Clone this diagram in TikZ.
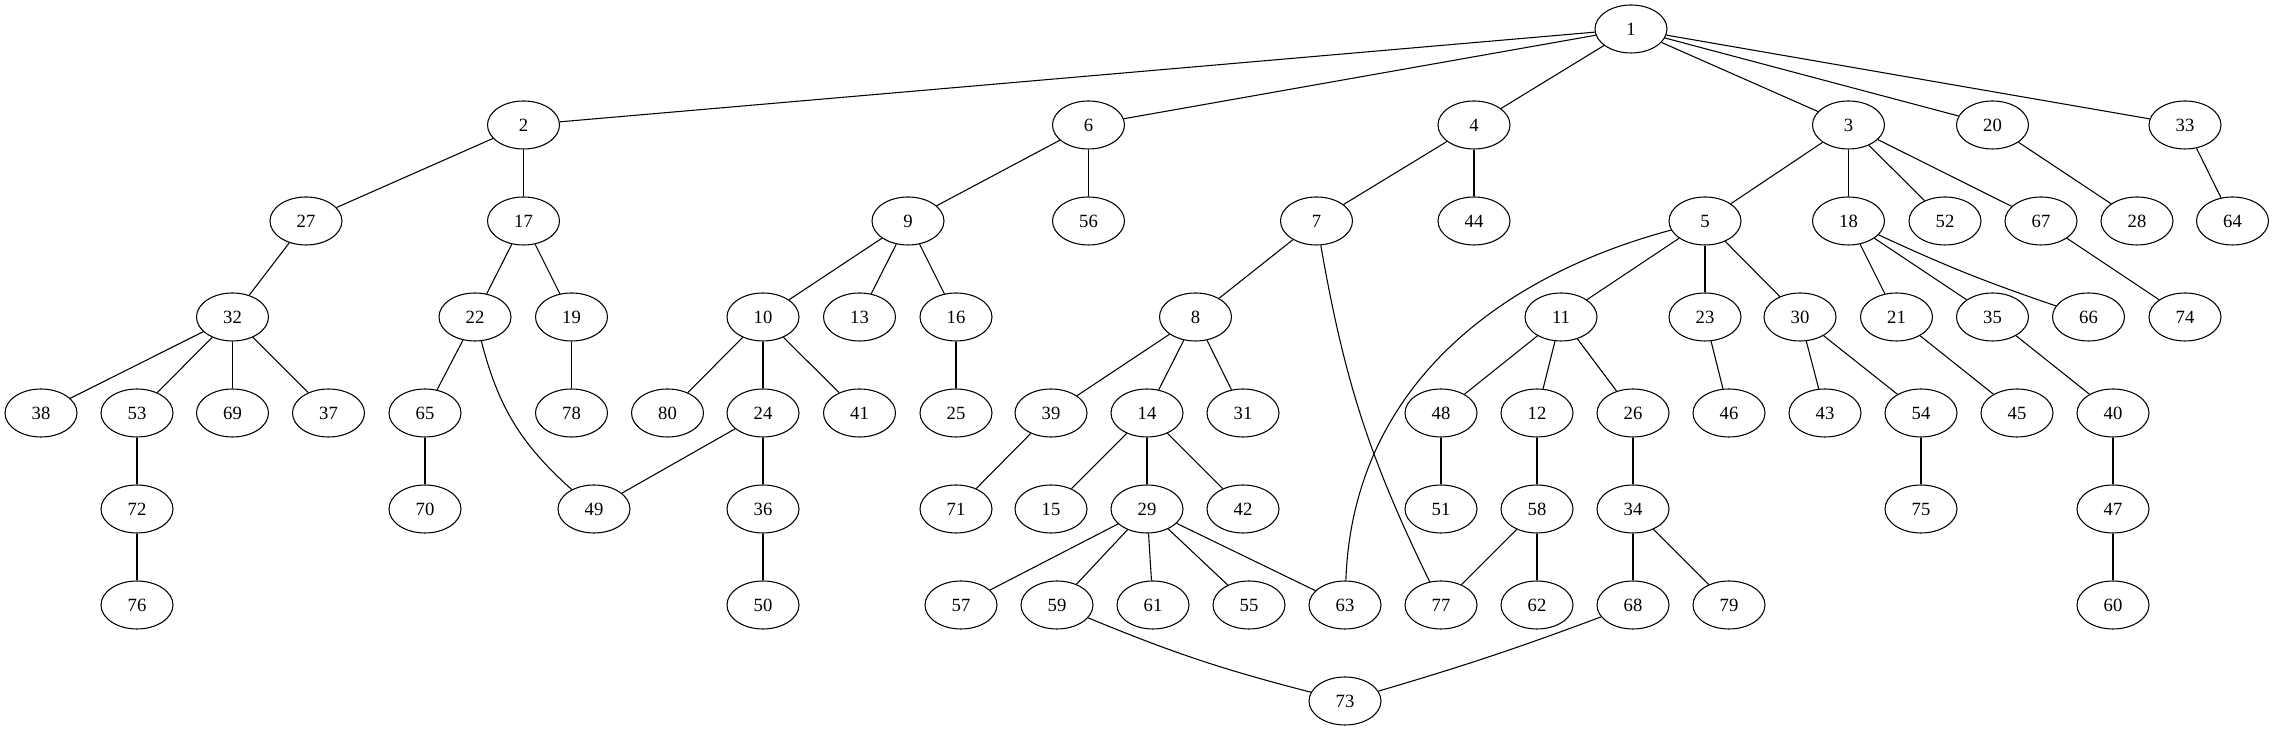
\documentclass[tikz,border=0pt]{standalone}
\usepackage{fontspec}
\setmainfont{Liberation Serif}
\usetikzlibrary{shapes.geometric}

\tikzset{
  vtx/.style={draw, ellipse, line width=0.8pt, minimum width=54pt, minimum height=36pt,
    inner sep=0pt, font=\fontsize{14}{16}\selectfont},
  tie/.style={line width=0.8pt}
}

\begin{document}
\begin{tikzpicture}[x=0.75pt, y=0.75pt]
    % Fix the page
    \useasboundingbox (0,0) rectangle (2275,731);

    % Rank 0
    \node[vtx] (n1) at (1631,702) {1};

    % Rank 1
    \node[vtx] (n2) at (523.5,606) {2};
    \node[vtx] (n6) at (1088.5,606) {6};
    \node[vtx] (n4) at (1474,606) {4};
    \node[vtx] (n3) at (1848.5,606) {3};
    \node[vtx] (n20) at (1992.5,606) {20};
    \node[vtx] (n33) at (2185,606) {33};

    % Rank 2
    \node[vtx] (n27) at (306,510) {27};
    \node[vtx] (n17) at (523.5,510) {17};
    \node[vtx] (n9) at (908,510) {9};
    \node[vtx] (n56) at (1088.5,510) {56};
    \node[vtx] (n7) at (1316.5,510) {7};
    \node[vtx] (n44) at (1474,510) {44};
    \node[vtx] (n5) at (1705,510) {5};
    \node[vtx] (n18) at (1848.5,510) {18};
    \node[vtx] (n52) at (1945,510) {52};
    \node[vtx] (n67) at (2041,510) {67};
    \node[vtx] (n28) at (2137,510) {28};
    \node[vtx] (n64) at (2232.5,510) {64};

    % Rank 3
    \node[vtx] (n32) at (232.5,414) {32};
    \node[vtx] (n22) at (475,414) {22};
    \node[vtx] (n19) at (571.5,414) {19};
    \node[vtx] (n10) at (763,414) {10};
    \node[vtx] (n13) at (859.5,414) {13};
    \node[vtx] (n16) at (956,414) {16};
    \node[vtx] (n8) at (1195.5,414) {8};
    \node[vtx] (n11) at (1561,414) {11};
    \node[vtx] (n23) at (1705,414) {23};
    \node[vtx] (n30) at (1800,414) {30};
    \node[vtx] (n21) at (1896.5,414) {21};
    \node[vtx] (n35) at (1992.5,414) {35};
    \node[vtx] (n66) at (2088.5,414) {66};
    \node[vtx] (n74) at (2185,414) {74};

    % Rank 4
    \node[vtx] (n38) at (41,318) {38};
    \node[vtx] (n53) at (137,318) {53};
    \node[vtx] (n69) at (232.5,318) {69};
    \node[vtx] (n37) at (328.5,318) {37};
    \node[vtx] (n65) at (425,318) {65};
    \node[vtx] (n78) at (571.5,318) {78};
    \node[vtx] (n80) at (667.5,318) {80};
    \node[vtx] (n24) at (763,318) {24};
    \node[vtx] (n41) at (859.5,318) {41};
    \node[vtx] (n25) at (956,318) {25};
    \node[vtx] (n39) at (1051,318) {39};
    \node[vtx] (n14) at (1147,318) {14};
    \node[vtx] (n31) at (1243,318) {31};
    \node[vtx] (n48) at (1441,318) {48};
    \node[vtx] (n12) at (1537,318) {12};
    \node[vtx] (n26) at (1633,318) {26};
    \node[vtx] (n46) at (1729,318) {46};
    \node[vtx] (n43) at (1825,318) {43};
    \node[vtx] (n54) at (1921,318) {54};
    \node[vtx] (n45) at (2017,318) {45};
    \node[vtx] (n40) at (2113,318) {40};

    % Rank 5
    \node[vtx] (n72) at (137,222) {72};
    \node[vtx] (n70) at (425,222) {70};
    \node[vtx] (n49) at (594,222) {49};
    \node[vtx] (n36) at (763,222) {36};
    \node[vtx] (n71) at (956,222) {71};
    \node[vtx] (n15) at (1051,222) {15};
    \node[vtx] (n29) at (1147,222) {29};
    \node[vtx] (n42) at (1243,222) {42};
    \node[vtx] (n51) at (1441,222) {51};
    \node[vtx] (n58) at (1537,222) {58};
    \node[vtx] (n34) at (1633,222) {34};
    \node[vtx] (n75) at (1921,222) {75};
    \node[vtx] (n47) at (2113,222) {47};

    % Rank 6
    \node[vtx] (n76) at (137,126) {76};
    \node[vtx] (n50) at (763,126) {50};
    \node[vtx] (n57) at (961,126) {57};
    \node[vtx] (n59) at (1057,126) {59};
    \node[vtx] (n61) at (1153,126) {61};
    \node[vtx] (n55) at (1249,126) {55};
    \node[vtx] (n63) at (1345,126) {63};
    \node[vtx] (n77) at (1441,126) {77};
    \node[vtx] (n62) at (1537,126) {62};
    \node[vtx] (n68) at (1633,126) {68};
    \node[vtx] (n79) at (1729,126) {79};
    \node[vtx] (n60) at (2113,126) {60};

    % Rank 7
    \node[vtx] (n73) at (1345,30) {73};

    % Edges from the top down
    \draw[tie] (n1) -- (n2);
    \draw[tie] (n1) -- (n6);
    \draw[tie] (n1) -- (n4);
    \draw[tie] (n1) -- (n3);
    \draw[tie] (n1) -- (n20);
    \draw[tie] (n1) -- (n33);
    \draw[tie] (n2) -- (n27);
    \draw[tie] (n2) -- (n17);
    \draw[tie] (n6) -- (n9);
    \draw[tie] (n6) -- (n56);
    \draw[tie] (n4) -- (n7);
    \draw[tie] (n4) -- (n44);
    \draw[tie] (n3) -- (n5);
    \draw[tie] (n3) -- (n18);
    \draw[tie] (n3) -- (n52);
    \draw[tie] (n3) -- (n67);
    \draw[tie] (n20) -- (n28);
    \draw[tie] (n33) -- (n64);
    \draw[tie] (n27) -- (n32);
    \draw[tie] (n17) -- (n22);
    \draw[tie] (n17) -- (n19);
    \draw[tie] (n9) -- (n10);
    \draw[tie] (n9) -- (n13);
    \draw[tie] (n9) -- (n16);
    \draw[tie] (n7) -- (n8);
    \draw[tie] (n7) to[bend right=8] (n77);
    \draw[tie] (n5) to[out=195,in=88] (n63);
    \draw[tie] (n5) -- (n11);
    \draw[tie] (n5) -- (n23);
    \draw[tie] (n5) -- (n30);
    \draw[tie] (n18) -- (n21);
    \draw[tie] (n18) -- (n35);
    \draw[tie] (n18) to[bend right=3] (n66);
    \draw[tie] (n67) -- (n74);
    \draw[tie] (n32) -- (n38);
    \draw[tie] (n32) -- (n53);
    \draw[tie] (n32) -- (n69);
    \draw[tie] (n32) -- (n37);
    \draw[tie] (n22) -- (n65);
    \draw[tie] (n22) to[bend right=17] (n49);
    \draw[tie] (n19) -- (n78);
    \draw[tie] (n10) -- (n80);
    \draw[tie] (n10) -- (n24);
    \draw[tie] (n10) -- (n41);
    \draw[tie] (n16) -- (n25);
    \draw[tie] (n8) -- (n39);
    \draw[tie] (n8) -- (n14);
    \draw[tie] (n8) -- (n31);
    \draw[tie] (n11) -- (n48);
    \draw[tie] (n11) -- (n12);
    \draw[tie] (n11) -- (n26);
    \draw[tie] (n23) -- (n46);
    \draw[tie] (n30) -- (n43);
    \draw[tie] (n30) -- (n54);
    \draw[tie] (n21) -- (n45);
    \draw[tie] (n35) -- (n40);
    \draw[tie] (n53) -- (n72);
    \draw[tie] (n65) -- (n70);
    \draw[tie] (n24) -- (n49);
    \draw[tie] (n24) -- (n36);
    \draw[tie] (n39) -- (n71);
    \draw[tie] (n14) -- (n15);
    \draw[tie] (n14) -- (n29);
    \draw[tie] (n14) -- (n42);
    \draw[tie] (n48) -- (n51);
    \draw[tie] (n12) -- (n58);
    \draw[tie] (n26) -- (n34);
    \draw[tie] (n54) -- (n75);
    \draw[tie] (n40) -- (n47);
    \draw[tie] (n72) -- (n76);
    \draw[tie] (n36) -- (n50);
    \draw[tie] (n29) -- (n57);
    \draw[tie] (n29) -- (n59);
    \draw[tie] (n29) -- (n61);
    \draw[tie] (n29) -- (n55);
    \draw[tie] (n29) -- (n63);
    \draw[tie] (n58) -- (n77);
    \draw[tie] (n58) -- (n62);
    \draw[tie] (n34) -- (n68);
    \draw[tie] (n34) -- (n79);
    \draw[tie] (n47) -- (n60);
    \draw[tie] (n59) to[bend right=4] (n73);
    \draw[tie] (n68) to[bend left=2] (n73);
\end{tikzpicture}
\end{document}
